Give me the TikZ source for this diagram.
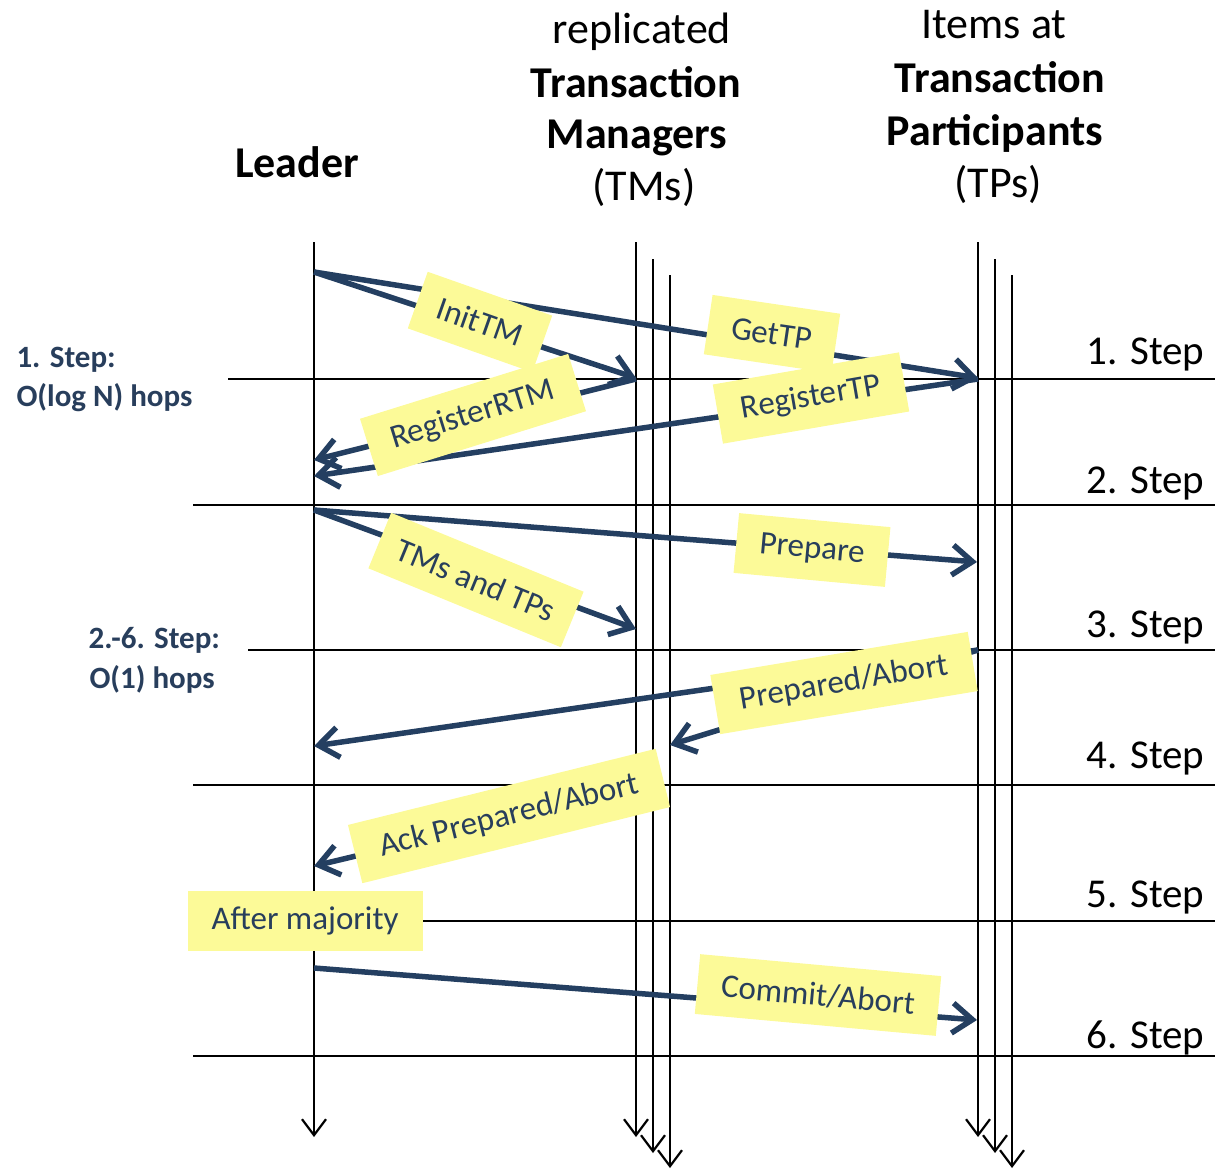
\documentclass[tikz,border=0pt]{standalone}
\usepackage{fontspec}
\setmainfont{Carlito}
\usetikzlibrary{arrows.meta}
\definecolor{msgblue}{RGB}{36,63,97}
\definecolor{notefill}{RGB}{252,250,152}
\definecolor{notetext}{RGB}{40,62,92}
\begin{document}
\begin{tikzpicture}[x=1pt,y=-1pt,
  lifeline/.style={line width=2.2pt,-{Straight Barb[length=16pt,width=24pt]}},
  stepline/.style={line width=2.2pt},
  msg/.style={draw=msgblue,line width=5.5pt,-{Straight Barb[length=20pt,width=30pt]}},
  note/.style={fill=notefill,text=notetext,font=\fontsize{33}{39}\selectfont,
    minimum height=60pt,inner sep=0pt},
  head/.style={font=\fontsize{44}{52}\selectfont,anchor=base},
  headb/.style={font=\fontsize{44}{52}\selectfont\bfseries,anchor=base},
  steplbl/.style={font=\fontsize{41}{48}\selectfont,anchor=base east},
  hops/.style={font=\fontsize{31}{37}\selectfont\bfseries,text=notetext,anchor=base west}
]
\useasboundingbox (0,0) rectangle (1215,1170);

% column headings
\node[headb] (hL) at (297,177) {Leader};
\node[head]  (hTM1) at (642,43) {replicated};
\node[headb] (hTM2) at (636,97) {Transaction};
\node[headb] (hTM3) at (637,148) {Managers};
\node[head]  (hTM4) at (644,200) {(TMs)};
\node[head]  (hTP1) at (994,38) {Items at};
\node[headb] (hTP2) at (1000,92) {Transaction};
\node[headb] (hTP3) at (995,145) {Participants};
\node[head]  (hTP4) at (998,197) {(TPs)};

% lifelines
\coordinate (Lt) at (314,242);  \coordinate (Lb) at (314,1137);
\coordinate (Mat) at (636,242); \coordinate (Mab) at (636,1137);
\coordinate (Mbt) at (653,259); \coordinate (Mbb) at (653,1153);
\coordinate (Mct) at (670,275); \coordinate (Mcb) at (670,1168);
\coordinate (Pat) at (978,242); \coordinate (Pab) at (978,1137);
\coordinate (Pbt) at (995,259); \coordinate (Pbb) at (995,1153);
\coordinate (Pct) at (1012,275); \coordinate (Pcb) at (1012,1168);
\foreach \a/\b in {Lt/Lb,Mat/Mab,Mbt/Mbb,Mct/Mcb,Pat/Pab,Pbt/Pbb,Pct/Pcb}
  \draw[lifeline] (\a) -- (\b);

% step separators
\coordinate (s1a) at (228,379);  \coordinate (s1b) at (1215,379);
\coordinate (s2a) at (193,505);  \coordinate (s2b) at (1215,505);
\coordinate (s3a) at (248,650);  \coordinate (s3b) at (1215,650);
\coordinate (s4a) at (193,785);  \coordinate (s4b) at (1215,785);
\coordinate (s5a) at (193,921);  \coordinate (s5b) at (1215,921);
\coordinate (s6a) at (193,1056); \coordinate (s6b) at (1215,1056);
\foreach \i in {1,...,6}
  \draw[stepline] (s\i a) -- (s\i b);

% step names
\node[steplbl] (st1) at (1208,364) {1. Step};
\node[steplbl] (st2) at (1208,493) {2. Step};
\node[steplbl] (st3) at (1208,637) {3. Step};
\node[steplbl] (st4) at (1208,768) {4. Step};
\node[steplbl] (st5) at (1208,907) {5. Step};
\node[steplbl] (st6) at (1208,1048) {6. Step};

% hop counts
\node[hops] (h1a) at (13,367) {1. Step:};
\node[hops] (h1b) at (13,406) {O(log N) hops};
\node[hops] (h2a) at (85,648) {2.-6. Step:};
\node[hops] (h2b) at (86,688) {O(1) hops};

% message end points
\coordinate (L1) at (314,272);
\coordinate (M1) at (636,378);
\coordinate (P1) at (978,378);
\coordinate (M1s) at (636,379);
\coordinate (P1s) at (978,379);
\coordinate (L2a) at (314,460);
\coordinate (L2b) at (314,476);
\coordinate (L3) at (314,510);
\coordinate (M3) at (636,629);
\coordinate (P3) at (977,562);
\coordinate (P4) at (978,650);
\coordinate (L4) at (314,746);
\coordinate (M4) at (670,745);
\coordinate (M5) at (653,785);
\coordinate (L5) at (314,866);
\coordinate (L6) at (314,968);
\coordinate (P6) at (977,1020);

% messages
\draw[msg] (L1) -- (M1);
\draw[msg] (L1) -- (P1);
\draw[msg] (M1s) -- (L2a);
\draw[msg] (P1s) -- (L2b);
\draw[msg] (L3) -- (M3);
\draw[msg] (L3) -- (P3);
\draw[msg] (P4) -- (L4);
\draw[msg] (P4) -- (M4);
\draw[msg] (M5) -- (L5);
\draw[msg] (L6) -- (P6);

% message labels
\node[note,rotate=-19.4,minimum width=132pt] (nInit) at (480,322) {InitTM};
\node[note,rotate=-8.4,minimum width=129pt] (nGet) at (772,334) {GetTP};
\node[note,rotate=17.3,minimum width=218pt] (nRegR) at (473,415) {RegisterRTM};
\node[note,rotate=9.8,minimum width=189pt] (nRegT) at (811,398) {RegisterTP};
\node[note,rotate=-22.3,minimum width=208pt] (nTMs) at (476,580) {TMs and TPs};
\node[note,rotate=-5.3,minimum width=152pt] (nPrep) at (812,550) {Prepare};
\node[note,rotate=9.5,minimum width=261pt] (nPrepd) at (844,683) {Prepared/Abort};
\node[note,rotate=13.9,minimum width=317pt] (nAck) at (509,816) {Ack Prepared/Abort};
\node[note,rotate=-5.2,minimum width=242pt] (nCommit) at (818,995) {Commit/Abort};
\node[note,minimum width=235pt] (nMaj) at (305,921) {After majority};
\end{tikzpicture}
\end{document}
